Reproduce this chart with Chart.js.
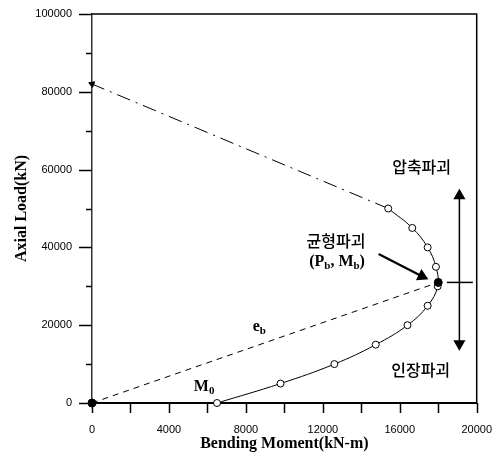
<!DOCTYPE html>
<html>
<head>
<meta charset="utf-8">
<script src="https://cdn.jsdelivr.net/npm/chart.js@4"></script>
<style>
  html, body { margin: 0; padding: 0; background: #fff; }
  canvas { display: block; }
</style>
</head>
<body>
<canvas id="chart" width="504" height="456"></canvas>
<script>
// P-M interaction curve (open circles)
const moment = [6500, 9800, 12600, 14750, 16400, 17450, 17970, 17880, 17450, 16650, 15400]
const axialLoad = [0, 5000, 10000, 15000, 20000, 25000, 30000, 35000, 40000, 45000, 50000]

// balanced failure point and origin
const balancedPoint = [18000, 31000]
const originPoint = [0, 0]

// compression-controlled extension (dash-dot) up to P0
const extMoment = [15400, 0]
const extLoad = [50000, 82000]

// eccentricity line e_b (dashed)
const ebMoment = [0, 18000]
const ebLoad = [0, 31000]

// failure-direction arrows on the right
const arrowMoment = [19100, 19100]
const arrowLoad = [53300, 15200]
const crossMoment = [18450, 19800]
const crossLoad = [31000, 31000]

// pointer to balanced point
const pointerMoment = [14900, 17150]
const pointerLoad = [38300, 32600]

const xTicks = [0, 4000, 8000, 12000, 16000, 20000]
const yTicks = [0, 20000, 40000, 60000, 80000, 100000]

const toXY = (xs, ys) => xs.map((x, i) => ({ x, y: ys[i] }))

const serif = '"Liberation Serif", "Times New Roman", serif'
const korean = '"Noto Sans CJK KR", sans-serif'

// text notes; each run is [text, isSubscript]
const notes = [
  { runs: [['압축파괴', false]], x: 17135, y: 60700, font: korean },
  { runs: [['균형파괴', false]], x: 12685, y: 41650, font: korean },
  { runs: [['(P', false], ['b', true], [', M', false], ['b', true], [')', false]], x: 12740, y: 36250, font: serif },
  { runs: [['인장파괴', false]], x: 17085, y: 8500, font: korean },
  { runs: [['e', false], ['b', true]], x: 8700, y: 19500, font: serif },
  { runs: [['M', false], ['0', true]], x: 5830, y: 4100, font: serif },
]

const notesPlugin = {
  id: 'notes',
  afterDatasetsDraw(chart) {
    const { ctx, scales } = chart
    ctx.save()
    ctx.fillStyle = '#000'
    ctx.textBaseline = 'middle'
    ctx.textAlign = 'left'
    for (const note of notes) {
      const isKorean = note.font === korean
      const mainFont = isKorean ? `500 16px ${korean}` : `bold 16px ${serif}`
      const subFont = `bold 11px ${serif}`
      let width = 0
      for (const [text, sub] of note.runs) {
        ctx.font = sub ? subFont : mainFont
        width += ctx.measureText(text).width
      }
      let px = scales.x.getPixelForValue(note.x) - width / 2
      const py = scales.y.getPixelForValue(note.y)
      for (const [text, sub] of note.runs) {
        ctx.font = sub ? subFont : mainFont
        ctx.fillText(text, px, sub ? py + 4 : py)
        px += ctx.measureText(text).width
      }
    }
    ctx.restore()
  },
}

// frame + ticks (major ticks on y are longer)
const framePlugin = {
  id: 'frame',
  afterDraw(chart) {
    const { ctx, chartArea: a, scales } = chart
    ctx.save()
    ctx.strokeStyle = '#000'
    ctx.lineWidth = 1.5
    ctx.beginPath()
    ctx.moveTo(a.left, a.top)
    ctx.lineTo(a.right, a.top)
    ctx.lineTo(a.right, a.bottom)
    ctx.stroke()
    ctx.beginPath()
    for (const t of scales.y.ticks) {
      const py = Math.round(scales.y.getPixelForValue(t.value)) + 0.5
      const len = t.value % 20000 === 0 ? 13 : 6
      ctx.moveTo(a.left - len, py)
      ctx.lineTo(a.left, py)
    }
    for (const t of scales.x.ticks) {
      const px = Math.round(scales.x.getPixelForValue(t.value)) + 0.5
      ctx.moveTo(px, a.bottom)
      ctx.lineTo(px, a.bottom + 10)
    }
    ctx.stroke()
    ctx.restore()
  },
}

new Chart(document.getElementById('chart'), {
  type: 'scatter',
  data: {
    datasets: [
      {
        data: [{ x: balancedPoint[0], y: balancedPoint[1] }, { x: originPoint[0], y: originPoint[1] }],
        showLine: false,
        clip: false,
        pointRadius: 4,
        pointBackgroundColor: '#000',
        pointBorderColor: '#000',
      },
      {
        data: toXY(moment, axialLoad),
        showLine: true,
        clip: false,
        tension: 0.4,
        borderColor: '#000',
        borderWidth: 1,
        pointRadius: 3.5,
        pointBackgroundColor: '#fff',
        pointBorderColor: '#000',
        pointBorderWidth: 1,
      },
      {
        data: toXY(extMoment, extLoad),
        showLine: true,
        clip: false,
        borderColor: '#000',
        borderWidth: 1,
        borderDash: [14, 6, 2, 6],
        pointRadius: [0, 3.5],
        pointStyle: 'triangle',
        pointRotation: 292,
        pointBackgroundColor: '#000',
        pointBorderColor: '#000',
      },
      {
        data: toXY(ebMoment, ebLoad),
        showLine: true,
        clip: false,
        borderColor: '#000',
        borderWidth: 1,
        borderDash: [6, 5],
        pointRadius: 0,
      },
      {
        data: toXY(arrowMoment, arrowLoad),
        showLine: true,
        clip: false,
        borderColor: '#000',
        borderWidth: 1.5,
        pointRadius: 5.5,
        pointStyle: 'triangle',
        pointRotation: [0, 180],
        pointBackgroundColor: '#000',
        pointBorderColor: '#000',
      },
      {
        data: toXY(crossMoment, crossLoad),
        showLine: true,
        clip: false,
        borderColor: '#000',
        borderWidth: 1.5,
        pointRadius: 0,
      },
      {
        data: toXY(pointerMoment, pointerLoad),
        showLine: true,
        clip: false,
        borderColor: '#000',
        borderWidth: 2.2,
        pointRadius: [0, 5],
        pointStyle: 'triangle',
        pointRotation: 116,
        pointBackgroundColor: '#000',
        pointBorderColor: '#000',
      },
    ],
  },
  options: {
    responsive: false,
    devicePixelRatio: 1,
    animation: false,
    layout: { padding: { top: 14, right: 21, left: 0, bottom: 0 } },
    plugins: { legend: { display: false }, tooltip: { enabled: false } },
    scales: {
      x: {
        type: 'linear',
        min: 0,
        max: 20000,
        afterFit: (s) => { s.height = 53 },
        afterBuildTicks: (s) => {
          s.ticks = []
          for (let v = 0; v <= 20000; v += 2000) s.ticks.push({ value: v })
        },
        ticks: {
          color: '#000',
          font: { family: '"Liberation Sans", Arial, sans-serif', size: 11 },
          padding: 12,
          maxRotation: 0,
          autoSkip: false,
          callback: (v) => (xTicks.includes(v) ? String(v) : ''),
        },
        grid: { drawOnChartArea: false, drawTicks: true, tickLength: 8, tickColor: 'transparent' },
        border: { display: true, color: '#000', width: 2 },
        title: {
          display: true,
          text: 'Bending Moment(kN-m)',
          color: '#000',
          font: { family: serif, size: 16, weight: 'bold' },
          padding: { top: 0, bottom: 3 },
        },
      },
      y: {
        type: 'linear',
        min: 0,
        max: 100000,
        afterFit: (s) => { s.width = 92 },
        afterBuildTicks: (s) => {
          s.ticks = []
          for (let v = 0; v <= 100000; v += 10000) s.ticks.push({ value: v })
        },
        ticks: {
          color: '#000',
          font: { family: '"Liberation Sans", Arial, sans-serif', size: 11 },
          padding: 7,
          autoSkip: false,
          callback: (v) => (yTicks.includes(v) ? String(v) : ''),
        },
        grid: { drawOnChartArea: false, drawTicks: true, tickLength: 13, tickColor: 'transparent' },
        border: { display: true, color: '#333', width: 1.5 },
        title: {
          display: true,
          text: 'Axial Load(kN)',
          color: '#000',
          font: { family: serif, size: 16, weight: 'bold' },
          padding: { top: 12, bottom: 0 },
        },
      },
    },
  },
  plugins: [notesPlugin, framePlugin],
})
</script>
</body>
</html>
